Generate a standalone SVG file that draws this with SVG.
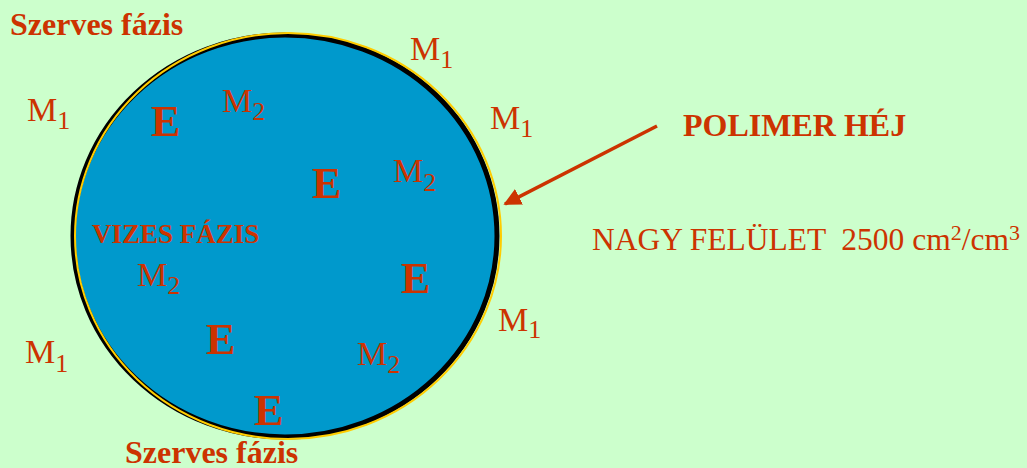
<svg xmlns="http://www.w3.org/2000/svg" width="1027" height="468" viewBox="0 0 1027 468">
<style>
.t{font-family:"Liberation Serif","Times New Roman",serif;fill:#CC3300}
.b{font-weight:bold}
.m{font-size:34px}
.s{font-size:26px}
.e{font-size:44px;font-weight:bold}
</style>
<defs>
<marker id="ah" viewBox="0 0 10 10" refX="9" refY="5" markerWidth="5" markerHeight="5" orient="auto" markerUnits="strokeWidth">
<path d="M0,0 L10,5 L0,10 z" fill="#CC3300"/>
</marker>
</defs>
<rect width="1027" height="468" fill="#CCFFCC"/>
<g id="droplet">
<ellipse cx="285" cy="236" rx="212" ry="201" fill="#0099CC" stroke="#000000" stroke-width="5"/>
<ellipse cx="288" cy="236" rx="213" ry="203" fill="none" stroke="#FFCC00" stroke-width="2"/>
</g>
<g id="connectors">
<line x1="657" y1="126" x2="505" y2="204" stroke="#CC3300" stroke-width="3.5" marker-end="url(#ah)"/>
</g>
<g id="labels">
<text class="t b" x="10" y="35" font-size="32">Szerves fázis</text>
<text class="t b" x="125" y="463" font-size="32">Szerves fázis</text>
<text class="t b" x="683" y="136" font-size="32">POLIMER HÉJ</text>
<text class="t b" x="92" y="243" font-size="27">VIZES FÁZIS</text>
<text class="t" x="592" y="250" font-size="31.5" xml:space="preserve">NAGY FELÜLET  2500 cm<tspan font-size="22" dy="-10">2</tspan><tspan dy="10">/cm</tspan><tspan font-size="22" dy="-10">3</tspan></text>
</g>
<g id="m1-labels">
<text class="t m" x="27" y="121">M<tspan class="s" dy="8">1</tspan></text>
<text class="t m" x="410" y="60">M<tspan class="s" dy="8">1</tspan></text>
<text class="t m" x="490" y="129">M<tspan class="s" dy="8">1</tspan></text>
<text class="t m" x="498" y="331">M<tspan class="s" dy="7">1</tspan></text>
<text class="t m" x="25" y="363">M<tspan class="s" dy="9">1</tspan></text>
</g>
<g id="m2-labels">
<text class="t m" x="222" y="112">M<tspan class="s" dy="8">2</tspan></text>
<text class="t m" x="393" y="182">M<tspan class="s" dy="9">2</tspan></text>
<text class="t m" x="137" y="286">M<tspan class="s" dy="8">2</tspan></text>
<text class="t m" x="357" y="365">M<tspan class="s" dy="8">2</tspan></text>
</g>
<g id="e-labels">
<text class="t e" x="151" y="136">E</text>
<text class="t e" x="312" y="198">E</text>
<text class="t e" x="401" y="293">E</text>
<text class="t e" x="206" y="354">E</text>
<text class="t e" x="254" y="425">E</text>
</g>
</svg>
